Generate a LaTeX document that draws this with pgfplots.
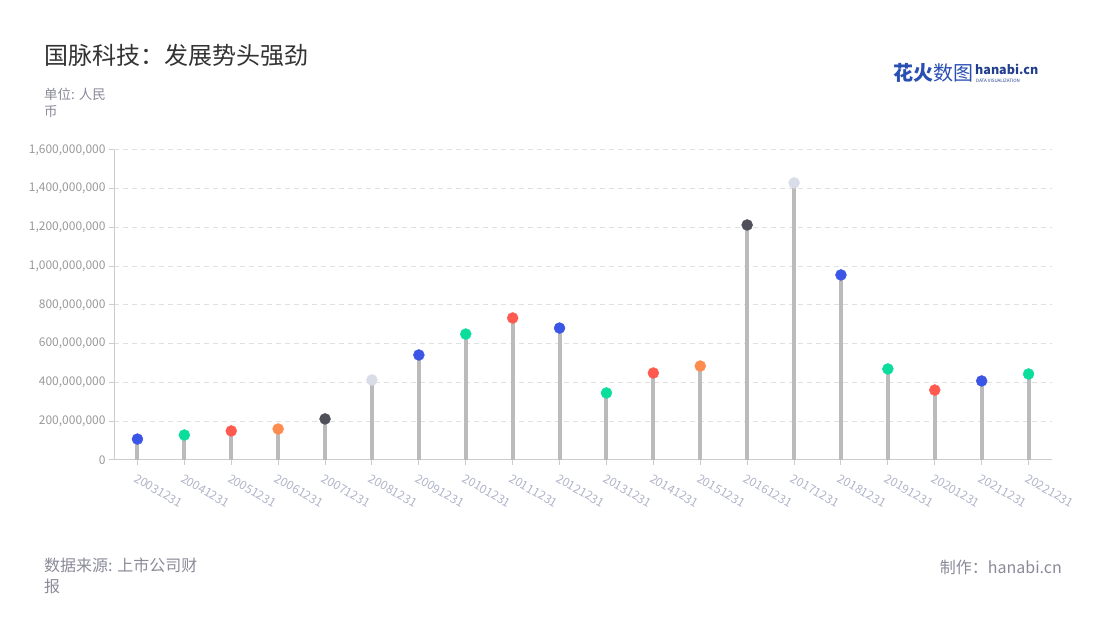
\documentclass[border=0pt]{standalone}
\usepackage{pgfplots}
\pgfplotsset{compat=1.18}
\usepackage{pgfplotstable}
\usepackage{fontspec}
\setmainfont{Noto Sans CJK SC}
\definecolor{cB}{HTML}{3B55E6}
\definecolor{cG}{HTML}{0BDE9C}
\definecolor{cR}{HTML}{FF5A50}
\definecolor{cO}{HTML}{FF8C4F}
\definecolor{cD}{HTML}{50505A}
\definecolor{cL}{HTML}{D9DDE7}
\definecolor{stem}{HTML}{BBBBBB}
\definecolor{axisc}{HTML}{CCCCCC}
\definecolor{gridc}{HTML}{E0E0E0}
\definecolor{ytl}{HTML}{999999}
\definecolor{xtl}{HTML}{B0B4C8}
\definecolor{titlec}{HTML}{333333}
\definecolor{subc}{HTML}{8A8A99}
\definecolor{logoc}{HTML}{2A4FB3}
\pgfplotstableread{
x y c
0 108000000 B
1 129000000 G
2 150000000 R
3 160000000 O
4 212000000 D
5 413000000 L
6 542000000 B
7 650000000 G
8 733000000 R
9 681000000 B
10 346000000 G
11 449000000 R
12 485000000 O
13 1213000000 D
14 1430000000 L
15 955000000 B
16 470000000 G
17 361000000 R
18 408000000 B
19 444000000 G
}\data
\begin{document}
\begin{tikzpicture}[x=1bp,y=1bp]
\path[use as bounding box] (0,0) rectangle (1100,620);
% title
\node[anchor=west, text=titlec, font=\fontsize{24bp}{28bp}\selectfont, inner sep=0] at (44,565) {国脉科技：发展势头强劲};
\node[anchor=north west, text=subc, font=\fontsize{13.5bp}{17bp}\selectfont, inner sep=0, align=left] at (44,532) {单位: 人民\\币};
% logo
\node[anchor=west, text=logoc, font=\fontsize{20bp}{22bp}\selectfont\bfseries, inner sep=0] at (893,547) {花火\mdseries 数图};
\node[anchor=west, text=logoc!80!black, font=\fontsize{12.5bp}{14bp}\selectfont\bfseries, inner sep=0] at (975,551) {hanabi.cn};
\node[anchor=west, text=logoc!80!black, font=\fontsize{4.5bp}{5bp}\selectfont, inner sep=0] at (976,539) {DATA VISUALIZATION};
% footer
\node[anchor=north west, text=subc, font=\fontsize{16bp}{21bp}\selectfont, inner sep=0, align=left] at (44,62) {数据来源: 上市公司财\\报};
\node[anchor=east, text=subc, font=\fontsize{16bp}{18bp}\selectfont, inner sep=0] at (1062,53) {制作：hanabi.cn};
\begin{axis}[
  at={(114bp,160bp)}, anchor=south west,
  scale only axis, width=938bp, height=310bp,
  xmin=-0.5, xmax=19.5, ymin=0, ymax=1600000000,
  axis x line*=bottom, axis y line*=left,
  axis line style={axisc, line width=1bp, -},
  tick style={axisc, line width=1bp},
  tick align=outside, major tick length=5bp,
  xtick={0,...,19},
  xticklabels={20031231,20041231,20051231,20061231,20071231,20081231,20091231,20101231,20111231,20121231,20131231,20141231,20151231,20161231,20171231,20181231,20191231,20201231,20211231,20221231},
  xticklabel style={rotate=-30, anchor=north west, text=xtl, font=\fontsize{12bp}{14bp}\selectfont, xshift=1bp, yshift=-4bp},
  ytick={0,200000000,400000000,600000000,800000000,1000000000,1200000000,1400000000,1600000000},
  yticklabels={0,{200,000,000},{400,000,000},{600,000,000},{800,000,000},{1,000,000,000},{1,200,000,000},{1,400,000,000},{1,600,000,000}},
  scaled y ticks=false,
  yticklabel style={text=ytl, font=\fontsize{12bp}{14bp}\selectfont},
  ymajorgrids, major grid style={gridc, line width=1bp, dash pattern=on 5bp off 4bp},
  clip=false,
]
\addplot[ycomb, no marks, stem, line width=4bp] table[x=x,y=y]{\data};
\addplot[scatter, only marks, scatter src=explicit symbolic,
  scatter/classes={
    B={mark=*, cB, fill=cB},
    G={mark=*, cG, fill=cG},
    R={mark=*, cR, fill=cR},
    O={mark=*, cO, fill=cO},
    D={mark=*, cD, fill=cD},
    L={mark=*, cL, fill=cL}},
  mark size=5.5bp] table[x=x,y=y,meta=c]{\data};
\end{axis}
\end{tikzpicture}
\end{document}
